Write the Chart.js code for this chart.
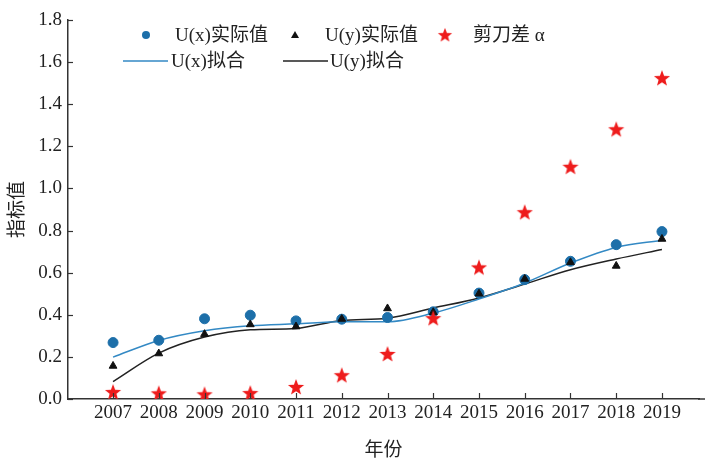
<!DOCTYPE html>
<html>
<head>
<meta charset="utf-8">
<script src="https://cdn.jsdelivr.net/npm/chart.js@4.4.1/dist/chart.umd.min.js"></script>
<style>
  body { margin: 0; background: #fff; }
  canvas { display: block; }
</style>
</head>
<body>
<canvas id="myChart" width="705" height="459"></canvas>
<script>
// data
var years = [2007, 2008, 2009, 2010, 2011, 2012, 2013, 2014, 2015, 2016, 2017, 2018, 2019];
var uxActual = [0.268, 0.279, 0.381, 0.398, 0.371, 0.379, 0.387, 0.414, 0.503, 0.567, 0.654, 0.733, 0.795];
var uyActual = [0.157, 0.216, 0.308, 0.354, 0.344, 0.380, 0.430, 0.412, 0.500, 0.570, 0.649, 0.632, 0.760];
var alpha    = [0.033, 0.027, 0.022, 0.028, 0.057, 0.113, 0.214, 0.384, 0.625, 0.887, 1.103, 1.281, 1.524];
var uxFit    = [0.199, 0.278, 0.324, 0.348, 0.357, 0.367, 0.367, 0.408, 0.475, 0.551, 0.646, 0.720, 0.754];
var uyFit    = [0.083, 0.218, 0.294, 0.329, 0.335, 0.373, 0.384, 0.432, 0.480, 0.546, 0.614, 0.665, 0.710];
var yTicks   = [0, 0.2, 0.4, 0.6, 0.8, 1.0, 1.2, 1.4, 1.6, 1.8];
var labels   = ['U(x)实际值', 'U(y)实际值', '剪刀差 α', 'U(x)拟合', 'U(y)拟合'];

function pts(arr) {
    return years.map(function(y, i) { return { x: y, y: arr[i] }; });
}

// filled five point star used as point style
function makeStar(size, color) {
    var c = document.createElement('canvas');
    c.width = size; c.height = size;
    var g = c.getContext('2d');
    var cx = size / 2, cy = size / 2 + 0.6, R = size / 2 - 0.5, r = R * 0.42;
    g.beginPath();
    for (var i = 0; i < 10; i++) {
        var rad = (i % 2 === 0) ? R : r;
        var a = -Math.PI / 2 + i * Math.PI / 5;
        g.lineTo(cx + rad * Math.cos(a), cy + rad * Math.sin(a));
    }
    g.closePath();
    g.fillStyle = color;
    g.fill();
    return c;
}
var starImg = makeStar(18, '#ee1c1c');

var BLUE = '#1d6fa9';
var BLUE_LINE = '#3389c4';
var BLACK = '#111';

// inward tick marks, and the x axis line running on to the right edge
var innerTicks = {
    id: 'innerTicks',
    afterDraw: function(chart) {
        var ctx = chart.ctx, xs = chart.scales.x, ys = chart.scales.y;
        ctx.save();
        ctx.strokeStyle = '#333';
        ctx.lineWidth = 1.5;
        ctx.beginPath();
        ctx.moveTo(xs.right - 1, ys.bottom);
        ctx.lineTo(chart.width, ys.bottom);
        ctx.stroke();
        ctx.lineWidth = 1.2;
        years.forEach(function(y) {
            var px = Math.round(xs.getPixelForValue(y)) + 0.5;
            ctx.beginPath();
            ctx.moveTo(px, ys.bottom);
            ctx.lineTo(px, ys.bottom - 6);
            ctx.stroke();
        });
        yTicks.forEach(function(v) {
            var py = Math.round(ys.getPixelForValue(v)) + 0.5;
            ctx.beginPath();
            ctx.moveTo(xs.left, py);
            ctx.lineTo(xs.left + 5, py);
            ctx.stroke();
        });
        ctx.restore();
    }
};

// two row legend inside the plot
var legendSpots = [
    { x: 146, y: 35, tx: 175 },
    { x: 295, y: 35, tx: 325 },
    { x: 445, y: 35, tx: 473 },
    { x: 123, y: 61, tx: 171 },
    { x: 283, y: 61, tx: 330 }
];
var customLegend = {
    id: 'customLegend',
    afterDraw: function(chart) {
        var ctx = chart.ctx;
        ctx.save();
        ctx.font = '19px "Liberation Serif", "Noto Sans CJK SC", serif';
        ctx.textBaseline = 'middle';
        ctx.fillStyle = '#222';
        chart.data.datasets.forEach(function(ds, i) {
            var s = legendSpots[i];
            if (ds.showLine === false) {
                if (ds.pointStyle === 'circle') {
                    ctx.beginPath();
                    ctx.arc(s.x, s.y, 4, 0, Math.PI * 2);
                    ctx.fillStyle = ds.pointBackgroundColor;
                    ctx.fill();
                } else if (ds.pointStyle === 'triangle') {
                    ctx.beginPath();
                    ctx.moveTo(s.x, s.y - 4);
                    ctx.lineTo(s.x + 4, s.y + 3);
                    ctx.lineTo(s.x - 4, s.y + 3);
                    ctx.closePath();
                    ctx.fillStyle = ds.pointBackgroundColor;
                    ctx.fill();
                } else {
                    ctx.drawImage(starImg, s.x - 8, s.y - 8, 16, 16);
                }
            } else {
                ctx.beginPath();
                ctx.moveTo(s.x, s.y);
                ctx.lineTo(s.x + 45, s.y);
                ctx.strokeStyle = ds.borderColor;
                ctx.lineWidth = 1.5;
                ctx.stroke();
            }
            ctx.fillStyle = '#222';
            ctx.fillText(ds.label, s.tx, s.y + 1);
        });
        ctx.restore();
    }
};

Chart.defaults.font.family = '"Liberation Serif", "Noto Sans CJK SC", serif';
Chart.defaults.font.size = 19;
Chart.defaults.color = '#222';

var ctx = document.getElementById('myChart').getContext('2d');
var myChart = new Chart(ctx, {
    type: 'line',
    data: {
        datasets: [{
            label: labels[0],
            data: pts(uxActual),
            showLine: false,
            pointStyle: 'circle',
            pointRadius: 5,
            pointBackgroundColor: BLUE,
            pointBorderColor: BLUE,
            order: 2
        }, {
            label: labels[1],
            data: pts(uyActual),
            showLine: false,
            pointStyle: 'triangle',
            pointRadius: 4.5,
            pointBackgroundColor: BLACK,
            pointBorderColor: BLACK,
            order: 1
        }, {
            label: labels[2],
            data: pts(alpha),
            showLine: false,
            pointStyle: starImg,
            pointBackgroundColor: '#ee1c1c',
            order: 0
        }, {
            label: labels[3],
            data: pts(uxFit),
            borderColor: BLUE_LINE,
            borderWidth: 1.5,
            pointRadius: 0,
            cubicInterpolationMode: 'monotone',
            order: 3
        }, {
            label: labels[4],
            data: pts(uyFit),
            borderColor: '#222',
            borderWidth: 1.5,
            pointRadius: 0,
            cubicInterpolationMode: 'monotone',
            order: 4
        }]
    },
    options: {
        responsive: false,
        animation: false,
        layout: { padding: { top: 20, right: 0, bottom: 0, left: 0 } },
        plugins: {
            legend: { display: false },
            tooltip: { enabled: false }
        },
        scales: {
            x: {
                type: 'linear',
                min: 2006.015,
                max: 2019.81,
                afterBuildTicks: function(scale) {
                    scale.ticks = years.map(function(y) { return { value: y }; });
                },
                afterFit: function(scale) { scale.height = 60; },
                ticks: {
                    padding: 3,
                    maxRotation: 0,
                    autoSkip: false,
                    callback: function(v) { return String(v); }
                },
                grid: { display: false, drawTicks: false },
                border: { display: true, color: '#333', width: 1.5 },
                title: { display: true, text: '年份', padding: { top: 4, bottom: -3 } }
            },
            y: {
                min: 0,
                max: 1.8,
                afterBuildTicks: function(scale) {
                    scale.ticks = yTicks.map(function(v) { return { value: v }; });
                },
                afterFit: function(scale) { scale.width = 68; },
                ticks: {
                    padding: 6,
                    callback: function(v) { return v.toFixed(1); }
                },
                grid: { display: false, drawTicks: false },
                border: { display: true, color: '#333', width: 1.5 },
                title: { display: true, text: '指标值', padding: { top: 7, bottom: 4 } }
            }
        }
    },
    plugins: [innerTicks, customLegend]
});
</script>
</body>
</html>
